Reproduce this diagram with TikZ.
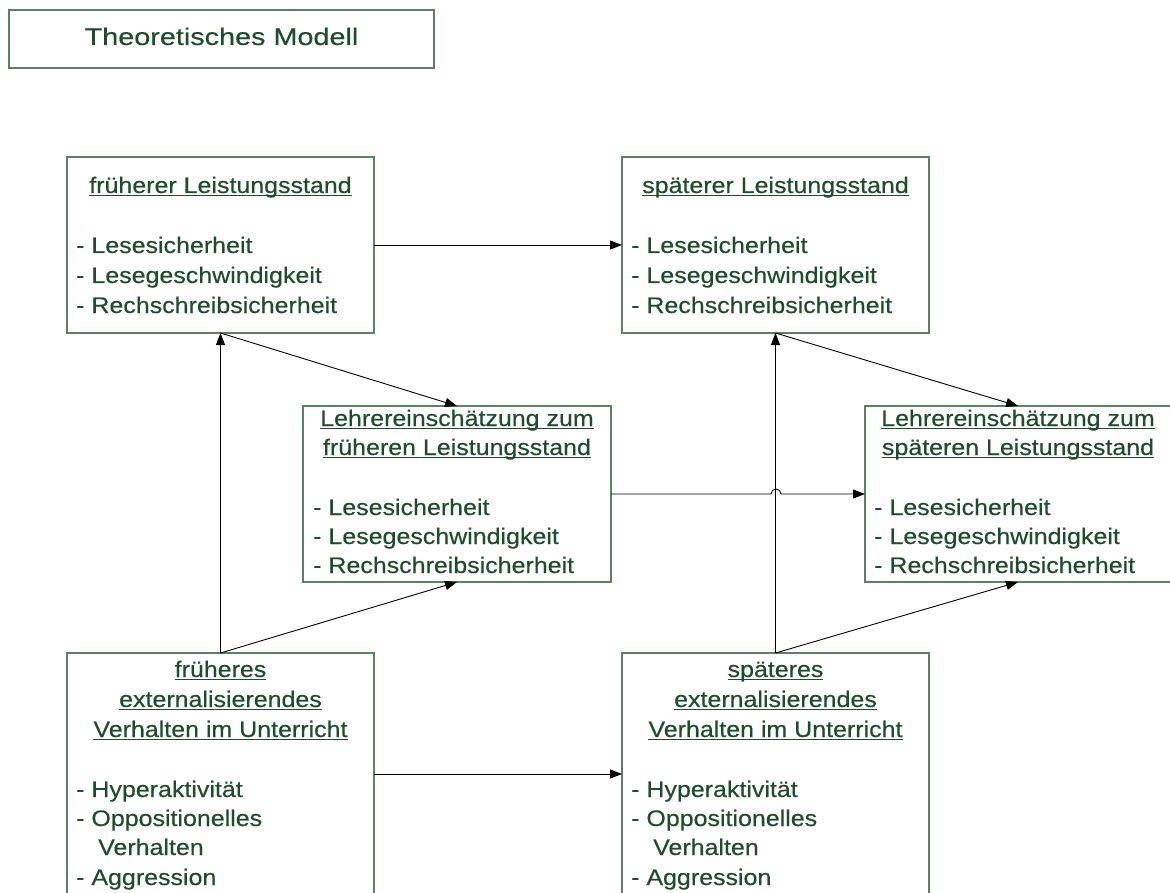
\documentclass[tikz,border=0pt]{standalone}
\usepackage{fontspec}
\setmainfont{Liberation Sans}[FakeStretch=1.11,FakeBold=0.4]
\newfontfamily\titlefont{Liberation Sans}[FakeStretch=1.2,FakeBold=0.4]
\usetikzlibrary{arrows.meta}
\definecolor{tgreen}{HTML}{1E4D2B}
\definecolor{bgreen}{HTML}{5A8264}
\newcommand\ulx[1]{\setbox0=\hbox{#1}\rlap{\rule[-3.4pt]{\wd0}{1.4pt}}\box0}
\tikzset{
  box/.style={draw=bgreen, line width=1.2pt, inner sep=0pt, outer sep=0pt, fill=none},
  txt/.style={inner sep=0pt, anchor=base west, text=tgreen, font=\fontsize{22.5}{30}\selectfont},
  hd/.style={inner sep=0pt, anchor=base, text=tgreen, font=\fontsize{22.5}{30}\selectfont},
  arr/.style={draw=black, line width=0.9pt, -{Triangle[length=12pt,width=9pt]}}
}
\begin{document}
\begin{tikzpicture}[x=1pt,y=-1pt]
\path[use as bounding box] (0,0) rectangle (1170,893);
\clip (0,0) rectangle (1170,893);

% title
\node[box, minimum width=425pt, minimum height=58pt] (title) at (221.5,39) {};
\node[inner sep=0pt, anchor=base, text=tgreen, font=\titlefont\fontsize{24}{30}\selectfont] (titletext) at (221.5,45) {Theoretisches Modell};

% boxes
\node[box, minimum width=307pt, minimum height=176pt] (tl) at (220.5,245) {};
\node[box, minimum width=307pt, minimum height=176pt] (tr) at (775.5,245) {};
\node[box, minimum width=308pt, minimum height=176pt] (ml) at (457,494) {};
\node[box, minimum width=306pt, minimum height=176pt] (mr) at (1018,494) {};
\node[box, minimum width=307pt, minimum height=260pt] (bl) at (220.5,783) {};
\node[box, minimum width=307pt, minimum height=260pt] (br) at (775.5,783) {};

% texts top-left
\node[hd] (tlh) at (220.5,193) {\ulx{früherer Leistungsstand}};
\node[txt] (tl1) at (76,253) {- Lesesicherheit};
\node[txt] (tl2) at (76,283) {- Lesegeschwindigkeit};
\node[txt] (tl3) at (76,313) {- Rechschreibsicherheit};
% top-right
\node[hd] (trh) at (775.5,193) {\ulx{späterer Leistungsstand}};
\node[txt] (tr1) at (631,253) {- Lesesicherheit};
\node[txt] (tr2) at (631,283) {- Lesegeschwindigkeit};
\node[txt] (tr3) at (631,313) {- Rechschreibsicherheit};
% middle-left
\node[hd] (mlh1) at (457,426) {\ulx{Lehrereinschätzung zum}};
\node[hd] (mlh2) at (457,455) {\ulx{früheren Leistungsstand}};
\node[txt] (ml1) at (313,515) {- Lesesicherheit};
\node[txt] (ml2) at (313,544) {- Lesegeschwindigkeit};
\node[txt] (ml3) at (313,573) {- Rechschreibsicherheit};
% middle-right
\node[hd] (mrh1) at (1018,426) {\ulx{Lehrereinschätzung zum}};
\node[hd] (mrh2) at (1018,455) {\ulx{späteren Leistungsstand}};
\node[txt] (mr1) at (874,515) {- Lesesicherheit};
\node[txt] (mr2) at (874,544) {- Lesegeschwindigkeit};
\node[txt] (mr3) at (874,573) {- Rechschreibsicherheit};
% bottom-left
\node[hd] (blh1) at (220.5,677) {\ulx{früheres}};
\node[hd] (blh2) at (220.5,707) {\ulx{externalisierendes}};
\node[hd] (blh3) at (220.5,737) {\ulx{Verhalten im Unterricht}};
\node[txt] (bl1) at (76,797) {- Hyperaktivität};
\node[txt] (bl2) at (76,826) {- Oppositionelles};
\node[txt] (bl3) at (98,855) {Verhalten};
\node[txt] (bl4) at (76,885) {- Aggression};
% bottom-right
\node[hd] (brh1) at (775.5,677) {\ulx{späteres}};
\node[hd] (brh2) at (775.5,707) {\ulx{externalisierendes}};
\node[hd] (brh3) at (775.5,737) {\ulx{Verhalten im Unterricht}};
\node[txt] (br1) at (631,797) {- Hyperaktivität};
\node[txt] (br2) at (631,826) {- Oppositionelles};
\node[txt] (br3) at (653,855) {Verhalten};
\node[txt] (br4) at (631,885) {- Aggression};

% connectors
\draw[arr] (tl.east) -- (tr.west);
\draw[arr] (tl.south) -- (ml.north);
\draw[arr] (tr.south) -- (mr.north);
\draw[arr] (bl.north) -- (tl.south);
\draw[arr] (bl.north) -- (ml.south);
\draw[arr] (br.north) -- (tr.south);
\draw[arr] (br.north) -- (mr.south);
\coordinate (hopA) at (771,494);
\draw[arr] (ml.east) -- (hopA) arc[start angle=180, end angle=360, radius=5] -- (mr.west);
\draw[arr] ([yshift=-121pt]bl.north east) -- ([yshift=-121pt]br.north west);
\end{tikzpicture}
\end{document}
